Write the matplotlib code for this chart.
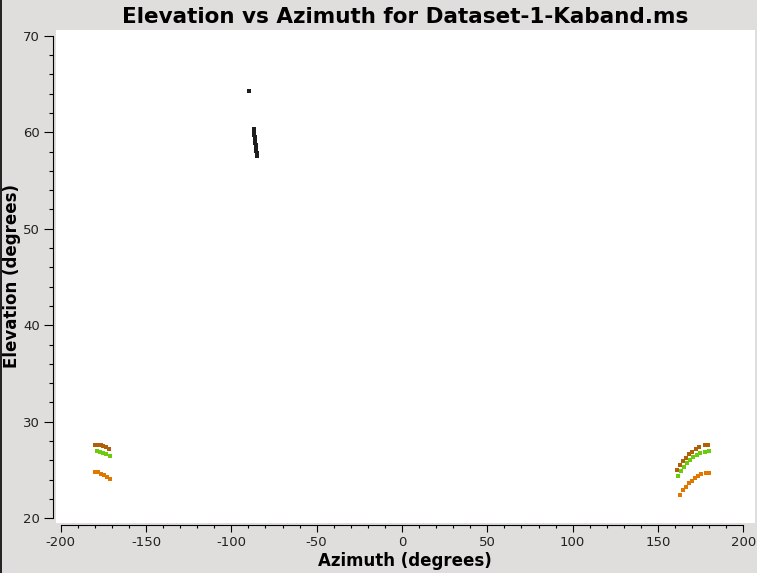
import matplotlib
matplotlib.use("Agg")
import matplotlib.pyplot as plt
from matplotlib.lines import Line2D
from matplotlib.ticker import MultipleLocator

plt.rcParams['axes.unicode_minus'] = False

# azimuth / elevation, one group per colour
black_az = [-89.7, -86.6, -86.6, -86.5, -86.5, -86.4, -86.3, -86.0, -85.9, -85.8, -85.6, -85.4, -85.3, -85.2, -85.1]
black_el = [64.27, 60.33, 60.1, 59.9, 59.7, 59.5, 59.3, 59.1, 58.9, 58.7, 58.5, 58.3, 58.1, 57.8, 57.55]

brown_az = [-179.7, -178.0, -176.6, -175.0, -173.5, -171.5,
            161.3, 162.9, 164.7, 166.4, 168.2, 170.0, 172.3, 174.2, 177.7, 179.5]
brown_el = [27.63, 27.63, 27.63, 27.52, 27.36, 27.15,
            25.05, 25.53, 25.91, 26.26, 26.64, 26.88, 27.23, 27.40, 27.60, 27.60]

green_az = [-178.6, -177.0, -175.0, -173.3, -171.3,
            161.9, 163.7, 165.4, 167.2, 168.9, 170.7, 172.7, 174.6, 177.7, 179.9]
green_el = [27.0, 26.87, 26.77, 26.66, 26.46,
            24.41, 24.93, 25.35, 25.73, 26.07, 26.35, 26.59, 26.73, 26.87, 27.0]

orange_az = [-179.7, -178.0, -176.4, -174.6, -172.9, -170.9,
             162.9, 164.8, 166.6, 168.4, 170.1, 171.9, 173.6, 175.4, 178.1, 179.7]
orange_el = [24.77, 24.77, 24.62, 24.52, 24.31, 24.07,
             22.38, 22.90, 23.21, 23.63, 23.90, 24.14, 24.35, 24.56, 24.73, 24.73]

W, H = 757, 573
fig = plt.figure(figsize=(W / 100, H / 100), dpi=100, facecolor='#dfdedd')
ax = fig.add_axes([55.5 / W, (H - 522.5) / H, (755 - 55.5) / W, (522.5 - 30) / H])
ax.set_facecolor('white')

ms = 2.2
ax.plot(brown_az, brown_el, 's', color='#b06008', ms=ms, mew=0)
ax.plot(orange_az, orange_el, 's', color='#e07800', ms=ms, mew=0)
ax.plot(green_az, green_el, 's', color='#6ccc0c', ms=ms, mew=0)
ax.plot(black_az, black_el, 's', color='#1e1e1e', ms=ms, mew=0)

ax.set_xlim(-203.05, 206.86)
ax.set_ylim(19.565, 70.59)

for s in ['top', 'right']:
    ax.spines[s].set_visible(False)
ax.spines['left'].set_position(('outward', 1.6))
ax.spines['left'].set_bounds(20, 70)
ax.spines['bottom'].set_position(('outward', 1.8))
ax.spines['bottom'].set_bounds(-200, 200)
for s in ['left', 'bottom']:
    ax.spines[s].set_linewidth(0.8)

ax.xaxis.set_major_locator(MultipleLocator(50))
ax.xaxis.set_minor_locator(MultipleLocator(10))
ax.yaxis.set_major_locator(MultipleLocator(10))
ax.yaxis.set_minor_locator(MultipleLocator(2))
ax.tick_params(axis='x', which='major', length=5, width=0.8, labelsize=9.5, pad=3, labelcolor='#222222')
ax.tick_params(axis='x', which='minor', length=2.5, width=0.8)
ax.tick_params(axis='y', which='major', length=6.5, width=0.8, labelsize=9.5, pad=3, labelcolor='#222222')
ax.tick_params(axis='y', which='minor', length=3, width=0.8)

ax.set_xlabel('Azimuth (degrees)', fontsize=12, fontweight='bold', labelpad=2)
ax.set_ylabel('Elevation (degrees)', fontsize=12, fontweight='bold', labelpad=1.5)
ax.set_title('Elevation vs Azimuth for Dataset-1-Kaband.ms', fontsize=15.5, fontweight='bold', pad=5)

# thin border on the left edge of the window
fig.add_artist(Line2D([0.6 / W, 0.6 / W], [0, 1], color='black', lw=1.2))

fig.savefig('out.png', dpi=100, facecolor=fig.get_facecolor())
